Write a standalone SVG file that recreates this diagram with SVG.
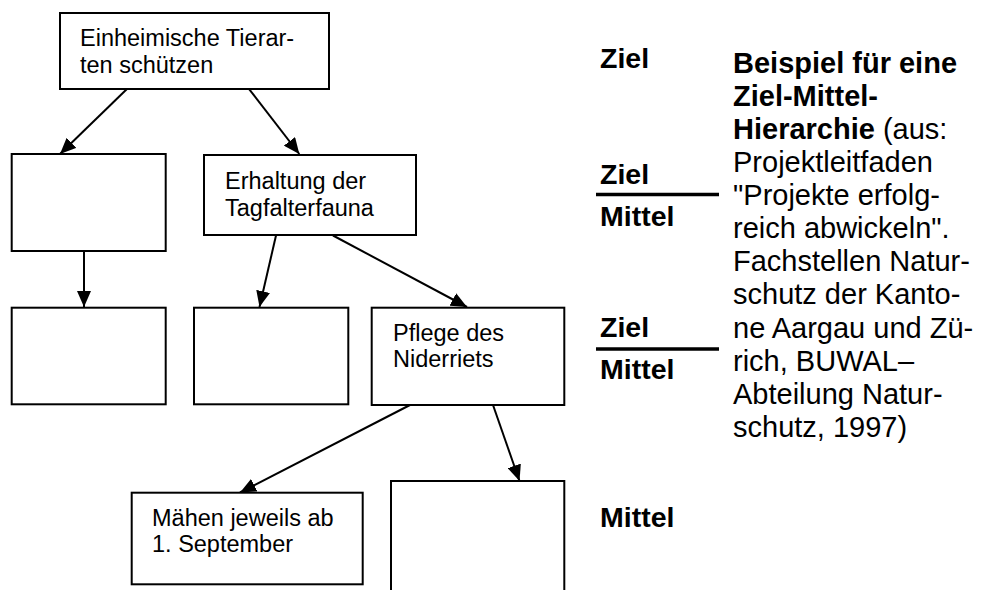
<svg xmlns="http://www.w3.org/2000/svg" width="981" height="590" viewBox="0 0 981 590">
<style>
.box{fill:#fff;stroke:#000;stroke-width:2}
.t{font-family:"Liberation Sans",Arial,sans-serif;font-size:23.5px;fill:#000}
.lbl{font-family:"Liberation Sans",Arial,sans-serif;font-size:28.5px;font-weight:bold;fill:#000}
.r{font-family:"Liberation Sans",Arial,sans-serif;font-size:29px;fill:#000}
.b{font-weight:bold}
.c{stroke:#000;stroke-width:2;fill:none;marker-end:url(#ah)}
.sep{stroke:#000;stroke-width:3.5}
</style>
<defs>
<marker id="ah" viewBox="0 0 16 14" refX="16" refY="7" markerWidth="16" markerHeight="14" markerUnits="userSpaceOnUse" orient="auto">
<path d="M0,0 L16,7 L0,14 z" fill="#000"/>
</marker>
</defs>
<rect width="981" height="590" fill="#fff"/>
<g id="connectors">
<path class="c" d="M126.7,89.3 L60,154"/>
<path class="c" d="M249.3,89.3 L299.3,154"/>
<path class="c" d="M84,251 L84,307"/>
<path class="c" d="M276,235.5 L259.5,307"/>
<path class="c" d="M333,235.5 L467,307"/>
<path class="c" d="M410,405 L240,492.5"/>
<path class="c" d="M493,405 L519.5,481"/>
</g>
<g id="n-top">
<rect class="box" x="60" y="13" width="269" height="76"/>
<text class="t" x="80" y="46">Einheimische Tierar-</text>
<text class="t" x="80" y="73">ten schützen</text>
</g>
<g id="n-left2">
<rect class="box" x="11.7" y="154" width="154" height="97"/>
</g>
<g id="n-erhaltung">
<rect class="box" x="204" y="155" width="212" height="80"/>
<text class="t" x="225" y="189">Erhaltung der</text>
<text class="t" x="225" y="216">Tagfalterfauna</text>
</g>
<g id="n-left3">
<rect class="box" x="11.7" y="307.7" width="154" height="96.6"/>
</g>
<g id="n-mid3">
<rect class="box" x="194" y="307.7" width="154.3" height="96.6"/>
</g>
<g id="n-pflege">
<rect class="box" x="371.7" y="307.7" width="192.6" height="97.3"/>
<text class="t" x="393" y="341">Pflege des</text>
<text class="t" x="393" y="367">Niderriets</text>
</g>
<g id="n-maehen">
<rect class="box" x="131.7" y="492.7" width="231" height="91.6"/>
<text class="t" x="152" y="526">Mähen jeweils ab</text>
<text class="t" x="152" y="552">1. September</text>
</g>
<g id="n-right4">
<rect class="box" x="391" y="481" width="173.3" height="130"/>
</g>
<g id="levels">
<text class="lbl" x="600" y="68">Ziel</text>
<text class="lbl" x="600" y="184">Ziel</text>
<line class="sep" x1="596" y1="194.5" x2="719" y2="194.5"/>
<text class="lbl" x="600" y="226">Mittel</text>
<text class="lbl" x="600" y="337">Ziel</text>
<line class="sep" x1="596" y1="349" x2="719" y2="349"/>
<text class="lbl" x="600" y="379">Mittel</text>
<text class="lbl" x="600" y="527">Mittel</text>
</g>
<g id="caption" class="r">
<text x="733" y="73" class="b">Beispiel für eine</text>
<text x="733" y="106" class="b">Ziel-Mittel-</text>
<text x="733" y="139"><tspan class="b">Hierarchie</tspan> (aus:</text>
<text x="733" y="172">Projektleitfaden</text>
<text x="733" y="205">"Projekte erfolg-</text>
<text x="733" y="238">reich abwickeln".</text>
<text x="733" y="271">Fachstellen Natur-</text>
<text x="733" y="304">schutz der Kanto-</text>
<text x="733" y="338">ne Aargau und Zü-</text>
<text x="733" y="371">rich, BUWAL–</text>
<text x="733" y="404">Abteilung Natur-</text>
<text x="733" y="437">schutz, 1997)</text>
</g>
</svg>
